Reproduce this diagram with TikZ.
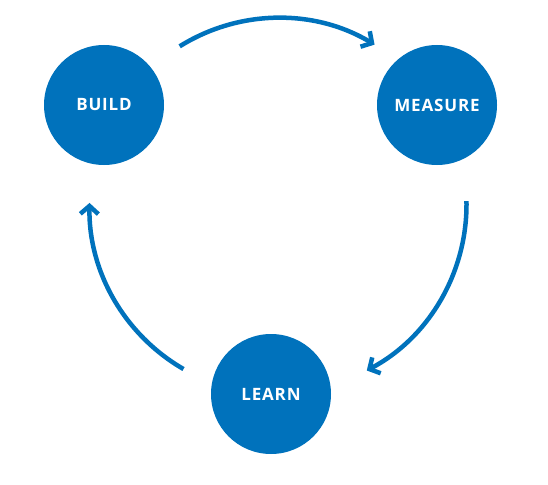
\documentclass[tikz,border=0pt]{standalone}
\usepackage{fontspec}
\setmainfont{Open Sans}
\newfontfamily\lblfont[LetterSpace=5]{Open Sans}
\usetikzlibrary{arrows.meta}
\definecolor{cycblue}{HTML}{0072BC}
\tikzset{
  stage/.style={circle, fill=cycblue, minimum size=120pt, inner sep=0pt,
    text=white, font=\lblfont\bfseries\fontsize{17pt}{19pt}\selectfont},
  cycarrow/.style={draw=cycblue, line width=4.5pt,
    -{Straight Barb[length=8pt,width=18pt,line width=4.5pt]}}
}
\begin{document}
\begin{tikzpicture}[x=1pt,y=-1pt]
\useasboundingbox (0,0) rectangle (548,484);
\node[stage] (build) at (104,105) {BUILD};
\node[stage] (measure) at (437,105) {MEASURE};
\node[stage] (learn) at (271,394) {LEARN};
\coordinate (c) at (278.5,204.5);
\draw[cycarrow] ([shift={(-122:186.5)}]c) arc[start angle=-122, end angle=-59, radius=186.5];
\draw[cycarrow] ([shift={(-1:188)}]c) arc[start angle=-1, end angle=62, radius=188];
\draw[cycarrow] ([shift={(120:190)}]c) arc[start angle=120, end angle=181, radius=188];
\end{tikzpicture}
\end{document}
